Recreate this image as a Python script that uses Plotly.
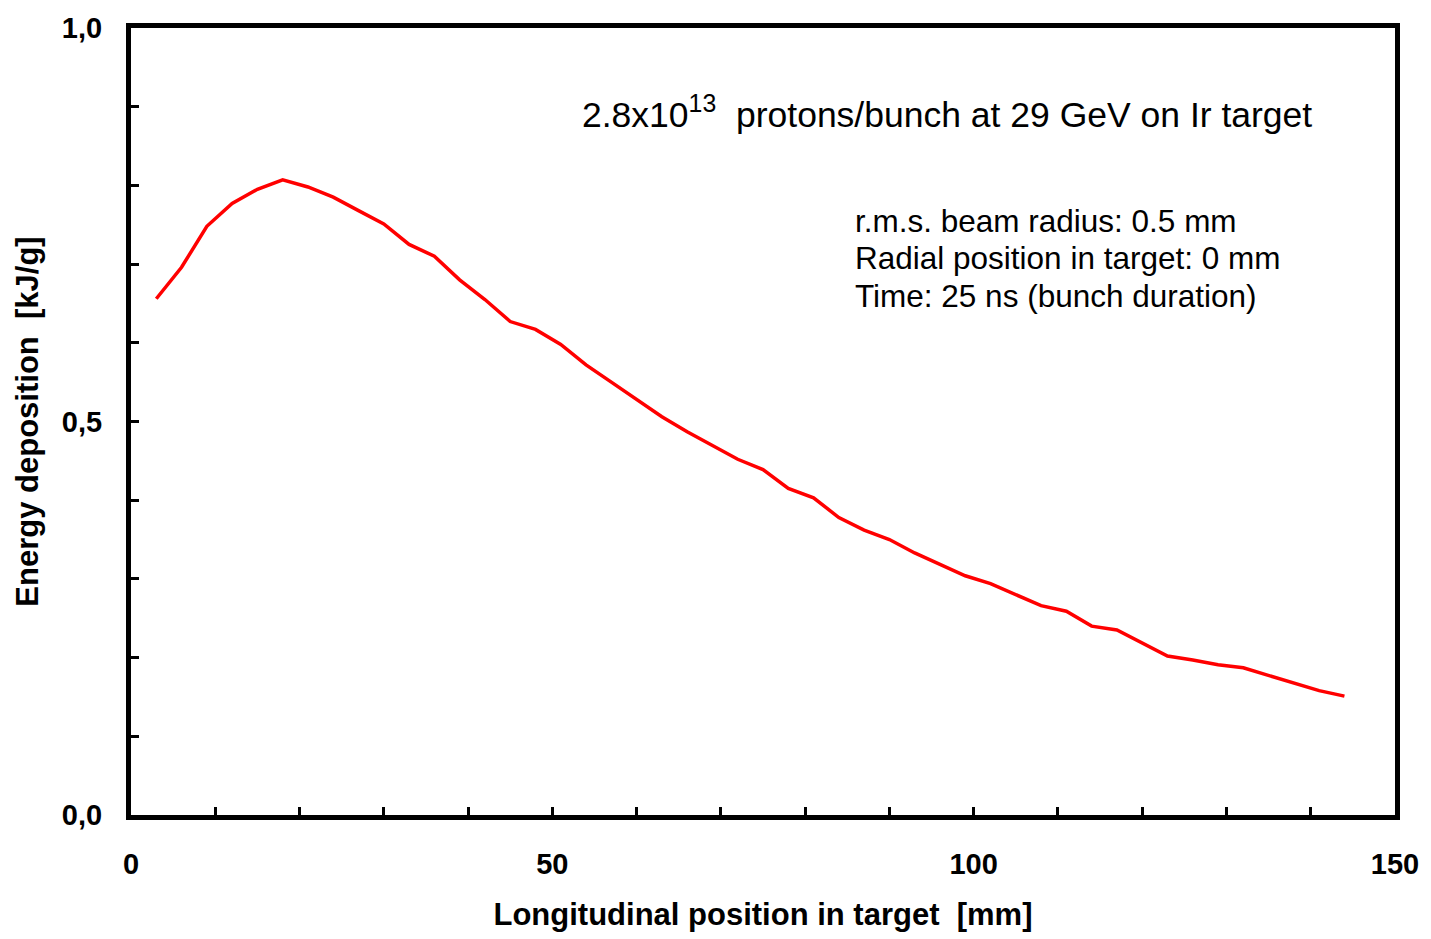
import plotly.graph_objects as go

# Data
position_mm = [3, 6, 9, 12, 15, 18, 21, 24, 27, 30, 33, 36, 39, 42, 45, 48, 51, 54,
               57, 60, 63, 66, 69, 72, 75, 78, 81, 84, 87, 90, 93, 96, 99, 102, 105,
               108, 111, 114, 117, 120, 123, 126, 129, 132, 135, 138, 141, 144]
energy_kj_g = [0.656, 0.696, 0.748, 0.777, 0.795, 0.807, 0.798, 0.785, 0.768, 0.751,
               0.725, 0.710, 0.680, 0.655, 0.627, 0.617, 0.598, 0.572, 0.550, 0.528,
               0.506, 0.487, 0.470, 0.452, 0.439, 0.415, 0.403, 0.378, 0.362, 0.350,
               0.333, 0.318, 0.304, 0.294, 0.280, 0.266, 0.259, 0.240, 0.235, 0.218,
               0.202, 0.197, 0.191, 0.187, 0.177, 0.167, 0.158, 0.151]

x_tickvals = [0, 50, 100, 150]
x_ticktext = ["0", "50", "100", "150"]
y_tickvals = [0.0, 0.5, 1.0]
y_ticktext = ["0,0", "0,5", "1,0"]

title_text = "2.8x10<sup>13</sup>  protons/bunch at 29 GeV on Ir target"
info_lines = ["r.m.s. beam radius: 0.5 mm",
              "Radial position in target: 0 mm",
              "Time: 25 ns (bunch duration)"]

FONT = "Liberation Sans, Arial, sans-serif"

fig = go.Figure()
fig.add_trace(go.Scatter(x=position_mm, y=energy_kj_g, mode="lines",
                         line=dict(color="#ff0000", width=3.5), showlegend=False))

fig.update_layout(
    width=1431, height=939,
    margin=dict(l=131, r=34, t=22, b=121),
    paper_bgcolor="white", plot_bgcolor="white",
    font=dict(family=FONT, color="black"),
)
fig.update_xaxes(
    range=[0, 150], tickmode="array", tickvals=x_tickvals, ticktext=x_ticktext,
    ticks="inside", ticklen=8, tickwidth=3, tickcolor="black",
    minor=dict(dtick=10, ticks="inside", ticklen=8, tickwidth=3, tickcolor="black",
               showgrid=False),
    showline=True, linewidth=5, linecolor="black", mirror=True,
    showgrid=False, zeroline=False,
    tickfont=dict(size=29, family=FONT, color="black", weight="bold"),
    ticklabelstandoff=19,
    title=dict(text="<b>Longitudinal position in target  [mm]</b>",
               font=dict(size=31, family=FONT), standoff=26),
)
fig.update_yaxes(
    range=[0, 1.0], tickmode="array", tickvals=y_tickvals, ticktext=y_ticktext,
    ticks="inside", ticklen=8, tickwidth=3, tickcolor="black",
    minor=dict(dtick=0.1, ticks="inside", ticklen=8, tickwidth=3, tickcolor="black",
               showgrid=False),
    showline=True, linewidth=5, linecolor="black", mirror=True,
    showgrid=False, zeroline=False,
    tickfont=dict(size=29, family=FONT, color="black", weight="bold"),
    ticklabelstandoff=18,
    title=dict(text="<b>Energy deposition  [kJ/g]</b>",
               font=dict(size=31, family=FONT), standoff=16),
)

fig.add_annotation(xref="paper", yref="paper", x=0.355, y=0.893,
                   xanchor="left", yanchor="middle", showarrow=False,
                   text=title_text, font=dict(size=35.5, family=FONT, color="black"))
for i, line in enumerate(info_lines):
    fig.add_annotation(xref="paper", yref="paper", x=0.571, y=0.755 - i * 0.0477,
                       xanchor="left", yanchor="middle", showarrow=False,
                       text=line, font=dict(size=31.5, family=FONT, color="black"))

fig.write_html("out.html")
